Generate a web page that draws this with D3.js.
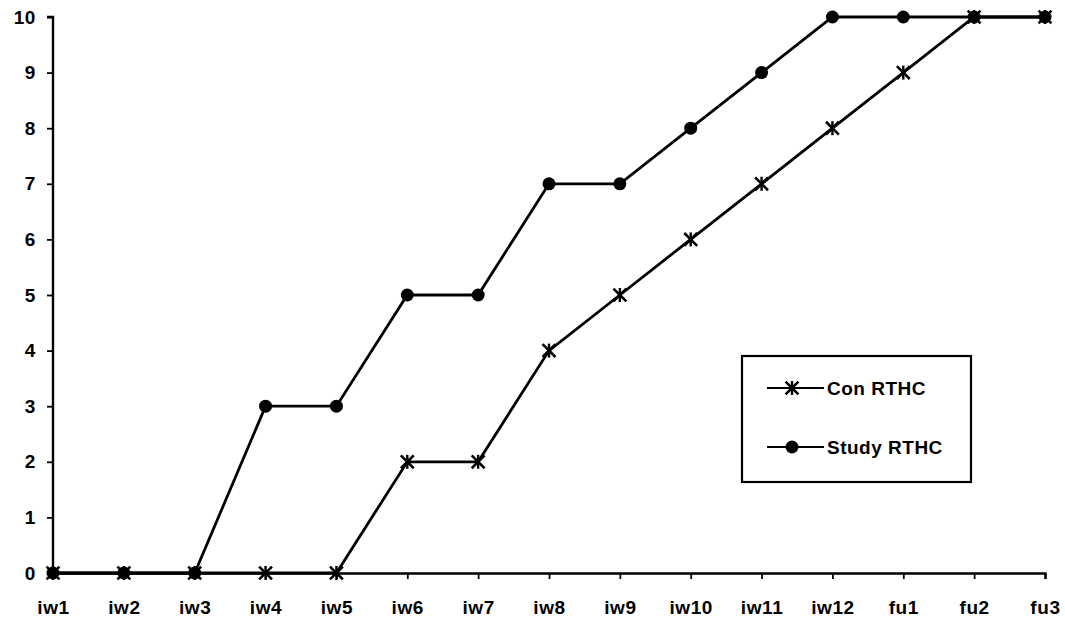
<!DOCTYPE html>
<html><head><meta charset="utf-8">
<script src="https://cdn.jsdelivr.net/npm/d3@7"></script>
<style>body{margin:0;background:#fff}svg{display:block}text{font-family:"Liberation Sans",Arial,sans-serif;font-weight:bold;fill:#000}</style>
</head><body>
<script>
const categories = ["iw1","iw2","iw3","iw4","iw5","iw6","iw7","iw8","iw9","iw10","iw11","iw12","fu1","fu2","fu3"];
const conValues = [0,0,0,0,0,2,2,4,5,6,7,8,9,10,10];
const studyValues = [0,0,0,3,3,5,5,7,7,8,9,10,10,10,10];
const yTicks = [0,1,2,3,4,5,6,7,8,9,10];
const seriesNames = ["Con RTHC","Study RTHC"];

const W = 1065, H = 621;
const m = {left:53, right:20, top:17, bottom:48};
const svg = d3.select("body").append("svg").attr("width",W).attr("height",H);
const x = d3.scalePoint().domain(categories).range([m.left, 1045]).padding(0);
const y = d3.scaleLinear().domain([0,10]).range([573, 17]);

const yAxis = svg.append("g").attr("transform",`translate(${m.left},0)`)
  .call(d3.axisLeft(y).tickValues(yTicks).tickSize(6).tickPadding(11).tickFormat(d3.format("d")));
const xAxis = svg.append("g").attr("transform",`translate(0,573)`)
  .call(d3.axisBottom(x).tickSize(6).tickPadding(22));
[xAxis,yAxis].forEach(g=>{
  g.selectAll("path").attr("stroke","#000").attr("stroke-width",2.4);
  g.selectAll("line").attr("stroke","#000").attr("stroke-width",1.8);
  g.selectAll("text").style("font-size","19px").style("letter-spacing","0.6px").style("font-family","'Liberation Sans',Arial,sans-serif").style("font-weight","bold");
});
yAxis.select(".domain").attr("d",`M-6,17H0V573`);

const line = d3.line().x((d,i)=>x(categories[i])).y(d=>y(d));
svg.append("path").datum(conValues).attr("d",line).attr("fill","none").attr("stroke","#000").attr("stroke-width",2.8);
svg.append("path").datum(studyValues).attr("d",line).attr("fill","none").attr("stroke","#000").attr("stroke-width",2.8);

function drawStar(g, cx, cy){
  g.append("path").attr("d",d3.symbol().type(d3.symbolTimes).size(110)()).attr("transform",`translate(${cx},${cy})`)
    .attr("stroke","#000").attr("stroke-width",2.6).attr("fill","none");
  g.append("line").attr("x1",cx).attr("x2",cx).attr("y1",cy-7).attr("y2",cy+7).attr("stroke","#000").attr("stroke-width",2.4);
}
const gm = svg.append("g");
studyValues.forEach((v,i)=>{
  gm.append("circle").attr("cx",x(categories[i])).attr("cy",y(v)).attr("r",6.5).attr("fill","#000");
});
conValues.forEach((v,i)=>{ drawStar(gm, x(categories[i]), y(v)); });

// legend
const lg = svg.append("g");
lg.append("rect").attr("x",742).attr("y",356).attr("width",229).attr("height",126).attr("fill","#fff").attr("stroke","#000").attr("stroke-width",2.2);
const ly = [388, 447];
seriesNames.forEach((n,i)=>{
  lg.append("line").attr("x1",767).attr("x2",824).attr("y1",ly[i]).attr("y2",ly[i]).attr("stroke","#000").attr("stroke-width",2.2);
  if(i===0) drawStar(lg, 792, ly[i]); else lg.append("circle").attr("cx",792).attr("cy",ly[i]).attr("r",6.5).attr("fill","#000");
  lg.append("text").attr("x",827).attr("y",ly[i]).attr("dy","0.36em").style("font-size","19px").style("letter-spacing","0.5px").text(n);
});
</script>
</body></html>
